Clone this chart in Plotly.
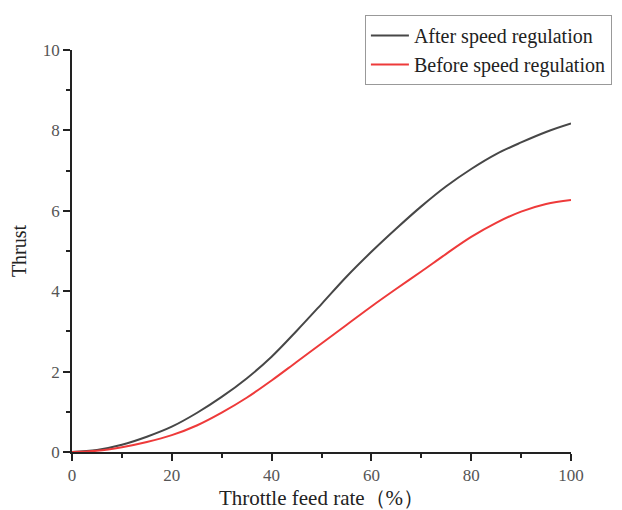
import plotly.graph_objects as go

throttle = [0, 5, 10, 15, 20, 25, 30, 35, 40, 45, 50, 55, 60, 65, 70, 75, 80, 85, 90, 95, 100]
after_reg = [0, 0.05, 0.18, 0.38, 0.63, 0.97, 1.37, 1.83, 2.37, 3.01, 3.68, 4.36, 4.98, 5.56, 6.11, 6.61, 7.04, 7.41, 7.70, 7.96, 8.17]
before_reg = [0, 0.03, 0.12, 0.25, 0.42, 0.66, 0.98, 1.35, 1.78, 2.24, 2.70, 3.16, 3.62, 4.06, 4.49, 4.93, 5.35, 5.70, 5.98, 6.17, 6.27]

font_family = "Liberation Serif, Times New Roman, serif"

fig = go.Figure()
fig.add_trace(go.Scatter(x=throttle, y=after_reg, mode="lines", name="After speed regulation",
                         line=dict(color="#474747", width=2, shape="spline", smoothing=1.0)))
fig.add_trace(go.Scatter(x=throttle, y=before_reg, mode="lines", name="Before speed regulation",
                         line=dict(color="#ee3a3a", width=2, shape="spline", smoothing=1.0)))

fig.update_layout(
    width=622, height=510,
    margin=dict(l=64, r=59, t=42, b=66, autoexpand=False),
    paper_bgcolor="white", plot_bgcolor="white",
    font=dict(family=font_family, color="#222"),
    showlegend=True,
    legend=dict(x=0.587, y=1.087, xanchor="left", yanchor="top",
                bordercolor="#999", borderwidth=1, bgcolor="white",
                font=dict(family=font_family, size=20, color="#222"),
                itemwidth=38, tracegroupgap=0),
    xaxis=dict(range=[0, 100], dtick=20, showgrid=False, zeroline=False, automargin=False,
               showline=True, linecolor="#222", linewidth=1.5,
               ticks="outside", ticklen=7, tickwidth=1.5, tickcolor="#222",
               minor=dict(dtick=10, ticks="outside", ticklen=4, tickwidth=1.5, tickcolor="#222"),
               tickfont=dict(family=font_family, size=17, color="#555"),
               title=dict(text="Throttle feed rate（%）", font=dict(family=font_family, size=21, color="#222"), standoff=6)),
    yaxis=dict(range=[0, 10], dtick=2, showgrid=False, zeroline=False, automargin=False,
               showline=True, linecolor="#222", linewidth=1.5,
               ticks="outside", ticklen=7, tickwidth=1.5, tickcolor="#222",
               minor=dict(dtick=1, ticks="outside", ticklen=4, tickwidth=1.5, tickcolor="#222"),
               tickfont=dict(family=font_family, size=17, color="#555"),
               title=dict(text="Thrust", font=dict(family=font_family, size=20, color="#222"), standoff=12)),
)

fig.write_html("out.html")
